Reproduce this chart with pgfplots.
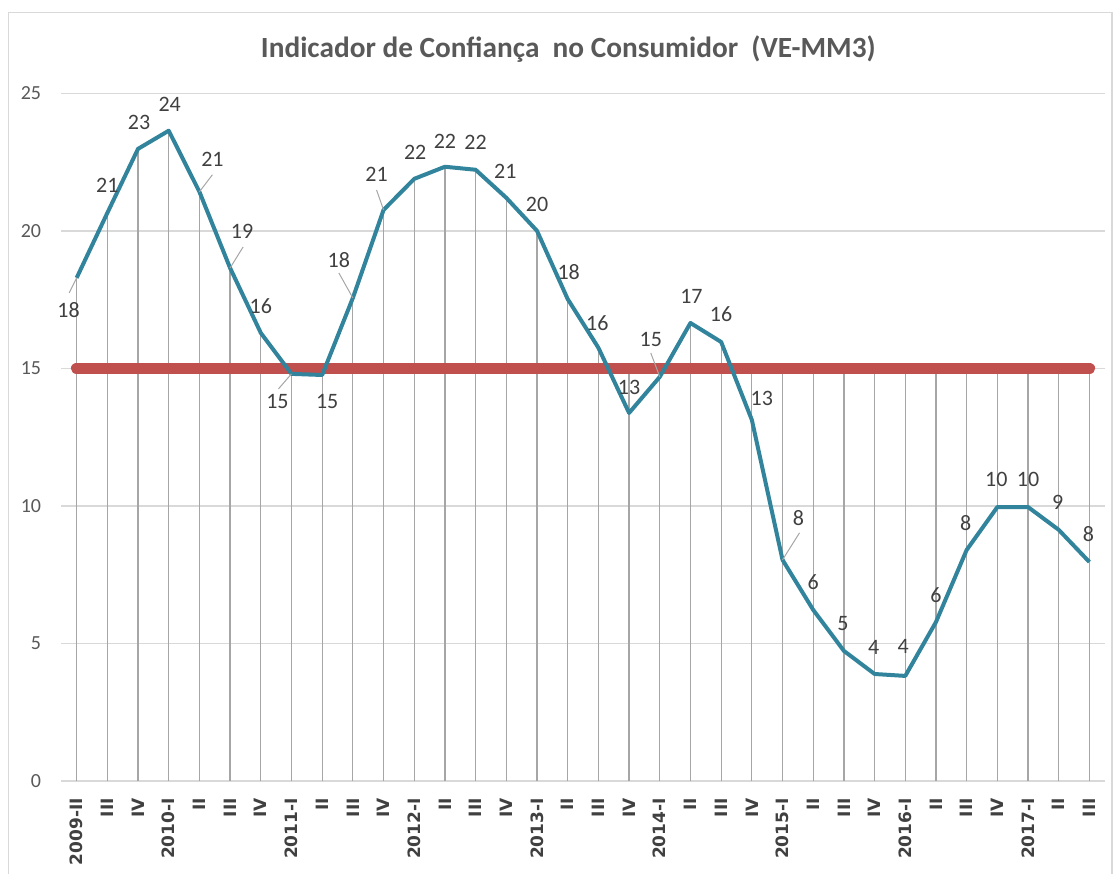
\documentclass[border=0pt]{standalone}
\usepackage{pgfplots}
\pgfplotsset{compat=1.18}
\usepackage{pgfplotstable}
\usepackage{fontspec}
\setmainfont{Carlito}
\newfontfamily\tickfont{DejaVu Sans}

\definecolor{tealline}{HTML}{31849B}
\definecolor{redline}{HTML}{C0504D}
\definecolor{gridgray}{HTML}{D9D9D9}
\definecolor{dropgray}{HTML}{A6A6A6}
\definecolor{textgray}{HTML}{595959}
\definecolor{darkgray}{HTML}{404040}

% x = quarter index, y = indicator, drop = top of drop line (max of both series)
\pgfplotstableread{
x y drop ref lab dx dy
0 18.29 18.29 15 18 -8 -32
1 20.65 20.65 15 21 0 28
2 22.98 22.98 15 23 1 26
3 23.64 23.64 15 24 1 26
4 21.42 21.42 15 21 13 32
5 18.65 18.65 15 19 12 37
6 16.29 16.29 15 16 0 27
7 14.80 15 15 15 -14 -28
8 14.76 15 15 15 5 -27
9 17.56 17.56 15 18 -14 38
10 20.76 20.76 15 21 -7 36
11 21.89 21.89 15 22 1 26
12 22.33 22.33 15 22 0 25
13 22.22 22.22 15 22 0 27
14 21.20 21.20 15 21 -1 26
15 20.00 20.00 15 20 0 26
16 17.52 17.52 15 18 1 27
17 15.75 15.75 15 16 -1 25
18 13.38 15 15 13 0 26
19 14.69 15 15 15 -9 37
20 16.65 16.65 15 17 1 27
21 15.96 15.96 15 16 0 28
22 13.13 15 15 13 10 21
23 8.04 15 15 8 16 42
24 6.22 15 15 6 0 28
25 4.73 15 15 5 -1 27
26 3.89 15 15 4 -1 27
27 3.82 15 15 4 -2 29
28 5.78 15 15 6 0 27
29 8.40 15 15 8 -1 27
30 9.96 15 15 10 -1 28
31 9.96 15 15 10 0 28
32 9.13 15 15 9 -1 27
33 7.96 15 15 8 -1 28
}\icc

\begin{document}
\begin{tikzpicture}[x=1pt,y=1pt]
% chart frame
\draw[gridgray, line width=1.5pt] (8.5,-5) -- (8.5,860.3) -- (1112,860.3) -- (1112,-5);

\node[font=\fontsize{29.3}{32}\selectfont\bfseries, text=textgray, anchor=base]
  at (568.3,815.7) {Indicador de Confiança\ \ no Consumidor\ \ (VE-MM3)};

\begin{axis}[
    at={(61.3pt,92pt)}, anchor=south west,
    scale only axis,
    width=1043.5pt, height=687.7pt,
    xmin=-0.5, xmax=33.5,
    ymin=0, ymax=25,
    axis line style={draw=none},
    major tick length=0pt,
    ytick={0,5,...,25},
    ymajorgrids,
    grid style={gridgray, line width=1.4pt},
    yticklabel style={font=\fontsize{20}{22}\selectfont, text=textgray, inner sep=0pt, xshift=-20pt},
    /pgf/number format/assume math mode=true,
    xtick={0,...,33},
    xticklabels={2009-II,III,IV,2010-I,II,III,IV,2011-I,II,III,IV,2012-I,II,III,IV,
      2013-I,II,III,IV,2014-I,II,III,IV,2015-I,II,III,IV,2016-I,II,III,IV,2017-I,II,III},
    xticklabel style={font=\tickfont\bfseries\fontsize{17}{19}\selectfont, text=darkgray,
      rotate=90, anchor=east, inner sep=0pt, xshift=-17pt},
    clip=false,
]
\addplot[ycomb, draw=dropgray, line width=1.2pt, no markers] table[x=x, y=drop] {\icc};
\addplot[redline, line width=11.5pt, line cap=round, no markers] table[x=x, y=ref] {\icc};
\addplot[tealline, line width=4pt, line join=round, no markers,
    point meta=explicit symbolic,
    visualization depends on={\thisrow{dx}\as\dx},
    visualization depends on={\thisrow{dy}\as\dy},
    nodes near coords,
    every node near coord/.append style={font=\fontsize{22}{24}\selectfont, text=darkgray,
      anchor=center, inner sep=0pt, xshift=\dx, yshift=\dy},
  ] table[x=x, y=y, meta=lab] {\icc};
% leader lines of the moved data labels
\begin{scope}[dropgray, line width=1pt]
\draw (axis cs:0,18.29) -- ++(-7.4pt,-15pt);
\draw (axis cs:4,21.42) -- ++(13pt,17pt);
\draw (axis cs:5,18.65) -- ++(13pt,21pt);
\draw (axis cs:7,14.80) -- ++(-13pt,-15pt);
\draw (axis cs:9,17.56) -- ++(-14pt,25pt);
\draw (axis cs:10,20.76) -- ++(-7pt,20pt);
\draw (axis cs:19,14.69) -- ++(-9pt,24pt);
\draw (axis cs:23,8.04) -- ++(17pt,27pt);
\end{scope}
\end{axis}
\pgfresetboundingbox
\useasboundingbox (0,0) rectangle (1113,873);
\end{tikzpicture}
\end{document}
